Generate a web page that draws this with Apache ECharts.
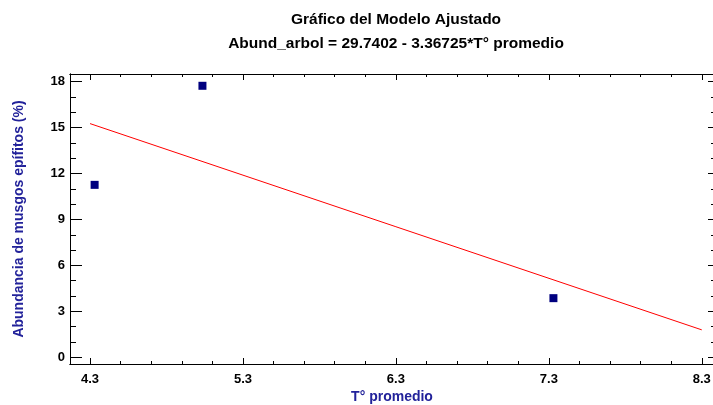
<!DOCTYPE html>
<html>
<head>
<meta charset="utf-8">
<script src="https://cdn.jsdelivr.net/npm/echarts@6/dist/echarts.min.js"></script>
<style>html,body{margin:0;padding:0;background:#fff}#c{width:713px;height:405px}</style>
</head>
<body>
<div id="c"></div>
<script>
// Observed points (T° promedio, Abundancia)
const tempValues = [4.33, 5.035, 7.33];
const abundValues = [11.26, 17.73, 3.86];
// Fitted line endpoints
const fitX = [4.3, 8.3];
const fitY = [15.26, 1.79];
// Tick positions
const xMajorTicks = [4.3, 5.3, 6.3, 7.3, 8.3];
const xMinorTicks = [4.5, 4.7, 4.9, 5.1, 5.5, 5.7, 5.9, 6.1, 6.5, 6.7, 6.9, 7.1, 7.5, 7.7, 7.9, 8.1];
const yMajorTicks = [0, 3, 6, 9, 12, 15, 18];
const yMinorTicks = [1, 2, 4, 5, 7, 8, 10, 11, 13, 14, 16, 17];
const titleText = 'Gráfico del Modelo Ajustado';
const subTitleText = 'Abund_arbol = 29.7402 - 3.36725*T° promedio';
const xName = 'T° promedio';
const yName = 'Abundancia de musgos epífitos (%)';

const FONT = 'Liberation Sans, Arial, sans-serif';
const X_MIN = 4.169, X_MAX = 8.380, Y_MIN = -0.44, Y_MAX = 18.5;
const lineStyle = { color: '#000', width: 1 };

function xAx(pos, ticks, len, opts) {
  return Object.assign({
    type: 'value', position: pos, min: X_MIN, max: X_MAX,
    axisLine: { show: true, onZero: false, lineStyle },
    axisTick: { show: true, inside: true, length: len, customValues: ticks, lineStyle },
    axisLabel: { show: false },
    splitLine: { show: false }
  }, opts || {});
}
function yAx(pos, ticks, len, opts) {
  return Object.assign({
    type: 'value', position: pos, min: Y_MIN, max: Y_MAX,
    axisLine: { show: true, onZero: false, lineStyle },
    axisTick: { show: true, inside: true, length: len, customValues: ticks, lineStyle },
    axisLabel: { show: false },
    splitLine: { show: false }
  }, opts || {});
}

const chart = echarts.init(document.getElementById('c'), null, { renderer: 'canvas' });
chart.setOption({
  animation: false,
  backgroundColor: '#fff',
  title: [
    { text: titleText, left: 391, top: 7, textAlign: 'center',
      textStyle: { fontFamily: FONT, fontSize: 15.5, fontWeight: 'bold', color: '#000' } },
    { text: subTitleText, left: 391, top: 31, textAlign: 'center',
      textStyle: { fontFamily: FONT, fontSize: 15.5, fontWeight: 'bold', color: '#000' } }
  ],
  grid: { left: 70, right: -1, top: 74, bottom: 41, containLabel: false, outerBoundsMode: 'none' },
  xAxis: [
    xAx('bottom', xMajorTicks, 6, {
      axisLabel: { show: true, customValues: xMajorTicks, margin: 9, hideOverlap: false,
        formatter: v => v.toFixed(1),
        fontFamily: FONT, fontSize: 13, fontWeight: 'bold', color: '#000' }
    }),
    xAx('bottom', xMinorTicks, 3, {
      name: xName, nameLocation: 'middle', nameGap: 26, nameMoveOverlap: false,
      nameTextStyle: { fontFamily: FONT, fontSize: 14, fontWeight: 'bold', color: '#22229a' }
    }),
    xAx('top', xMajorTicks, 6),
    xAx('top', xMinorTicks, 3)
  ],
  yAxis: [
    yAx('left', yMajorTicks, 12, {
      axisLabel: { show: true, customValues: yMajorTicks, margin: 5, hideOverlap: false,
        fontFamily: FONT, fontSize: 13, fontWeight: 'bold', color: '#000' }
    }),
    yAx('left', yMinorTicks, 6, {
      name: yName, nameLocation: 'middle', nameGap: 44, nameRotate: 90, nameMoveOverlap: false,
      nameTextStyle: { fontFamily: FONT, fontSize: 14, fontWeight: 'bold', color: '#22229a' }
    }),
    yAx('right', yMajorTicks, 6),
    yAx('right', yMinorTicks, 3)
  ],
  series: [
    {
      type: 'line', xAxisIndex: 0, yAxisIndex: 0,
      data: fitX.map((x, i) => [x, fitY[i]]),
      showSymbol: false, symbol: 'none',
      lineStyle: { color: '#ff0000', width: 1 }
    },
    {
      type: 'scatter', xAxisIndex: 0, yAxisIndex: 0,
      data: tempValues.map((x, i) => [x, abundValues[i]]),
      symbol: 'rect', symbolSize: 8,
      itemStyle: { color: '#00007f', opacity: 1 }
    }
  ]
});
</script>
</body>
</html>
